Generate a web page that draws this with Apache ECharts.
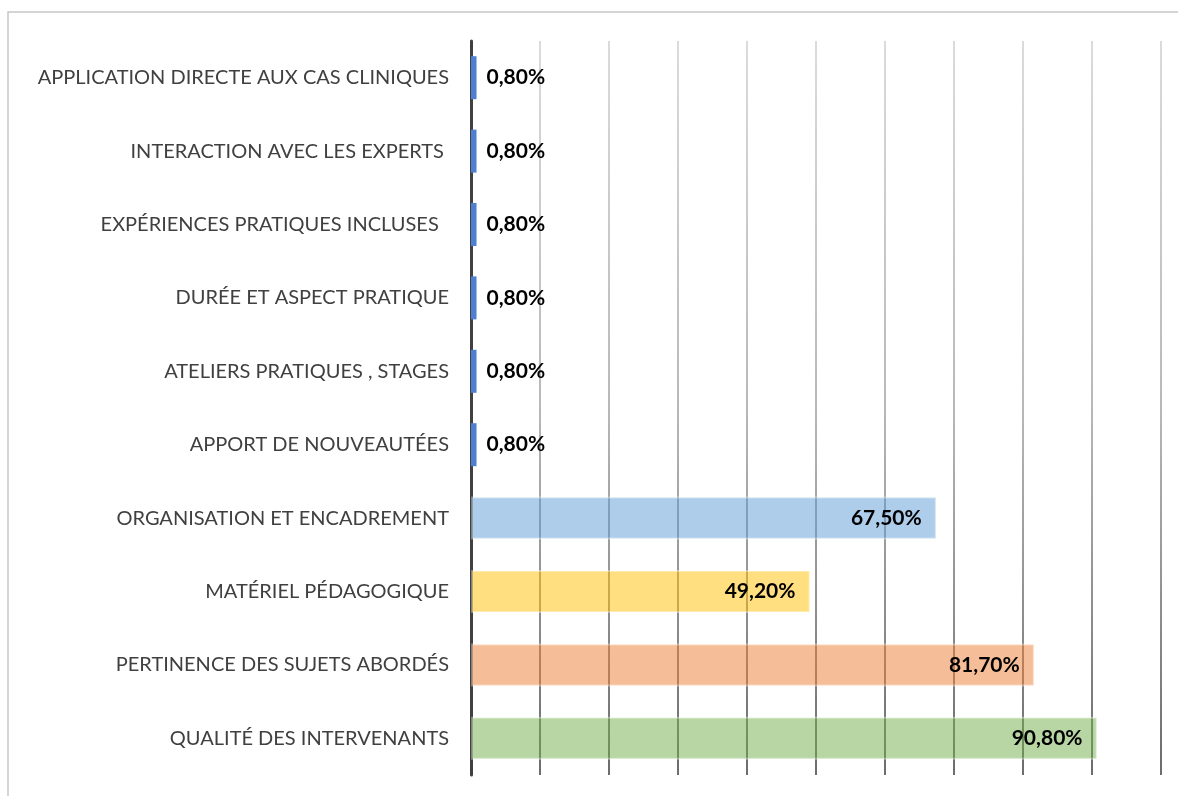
<!DOCTYPE html>
<html>
<head>
<meta charset="utf-8">
<script src="https://cdn.jsdelivr.net/npm/echarts@6/dist/echarts.min.js"></script>
<style>
  html, body { margin: 0; padding: 0; background: #fff; }
  #chart { width: 1178px; height: 796px; }
</style>
</head>
<body>
<div id="chart"></div>
<script>
// categories listed top to bottom
var categories = [
  'APPLICATION DIRECTE AUX CAS CLINIQUES',
  'INTERACTION AVEC LES EXPERTS ',
  'EXPÉRIENCES PRATIQUES INCLUSES  ',
  'DURÉE ET ASPECT PRATIQUE',
  'ATELIERS PRATIQUES , STAGES',
  'APPORT DE NOUVEAUTÉES',
  'ORGANISATION ET ENCADREMENT',
  'MATÉRIEL PÉDAGOGIQUE',
  'PERTINENCE DES SUJETS ABORDÉS',
  'QUALITÉ DES INTERVENANTS'
];
var percentages = [0.8, 0.8, 0.8, 0.8, 0.8, 0.8, 67.5, 49.2, 81.7, 90.8];

// one colour per bar
var barColors = [
  '#4f7fd0', '#4f7fd0', '#4f7fd0', '#4f7fd0', '#4f7fd0', '#4f7fd0',
  'rgba(91,155,213,0.5)', 'rgba(255,192,0,0.5)', 'rgba(237,125,49,0.5)', 'rgba(112,173,71,0.5)'
];

var chart = echarts.init(document.getElementById('chart'));

function fmt(v) {
  return v.toFixed(2).replace('.', ',') + '%';
}

var seriesData = percentages.map(function (v, i) {
  var small = v < 5;
  return {
    value: v,
    itemStyle: {
      color: barColors[i],
      borderColor: small ? barColors[i] : 'rgba(255,255,255,0.35)',
      borderWidth: small ? 0 : 2
    },
    label: small ? { position: 'right', distance: 10 } : { position: 'insideRight', distance: 15 }
  };
});

var gridGradient = new echarts.graphic.LinearGradient(0, 0, 0, 1, [
  { offset: 0, color: '#cfcfcf' },
  { offset: 0.5, color: '#a0a0a0' },
  { offset: 1, color: '#3a3a3a' }
]);

chart.setOption({
  animation: false,
  graphic: [{
    type: 'rect',
    shape: { x: 8, y: 12, width: 1300, height: 900 },
    style: { fill: 'none', stroke: '#c6c6c6', lineWidth: 1.5 },
    silent: true,
    z: -10
  }],
  grid: { left: 471, right: 17, top: 41, bottom: 21, containLabel: false },
  xAxis: {
    type: 'value',
    min: 0,
    max: 100,
    interval: 10,
    axisLine: { show: false },
    axisTick: { show: false },
    axisLabel: { show: false },
    splitLine: { show: true, lineStyle: { color: gridGradient, width: 1.5 } }
  },
  yAxis: {
    type: 'category',
    inverse: true,
    data: categories,
    axisLine: { show: true, lineStyle: { color: '#404040', width: 3 } },
    axisTick: { show: false },
    axisLabel: {
      margin: 22,
      color: '#404040',
      fontFamily: 'Lato',
      fontSize: 20
    }
  },
  series: [{
    type: 'bar',
    data: seriesData,
    barWidth: 43,
    label: {
      show: true,
      color: '#000',
      fontFamily: 'Lato',
      fontWeight: 'bold',
      fontSize: 21,
      formatter: function (p) { return fmt(p.value); }
    }
  }]
});
</script>
</body>
</html>
